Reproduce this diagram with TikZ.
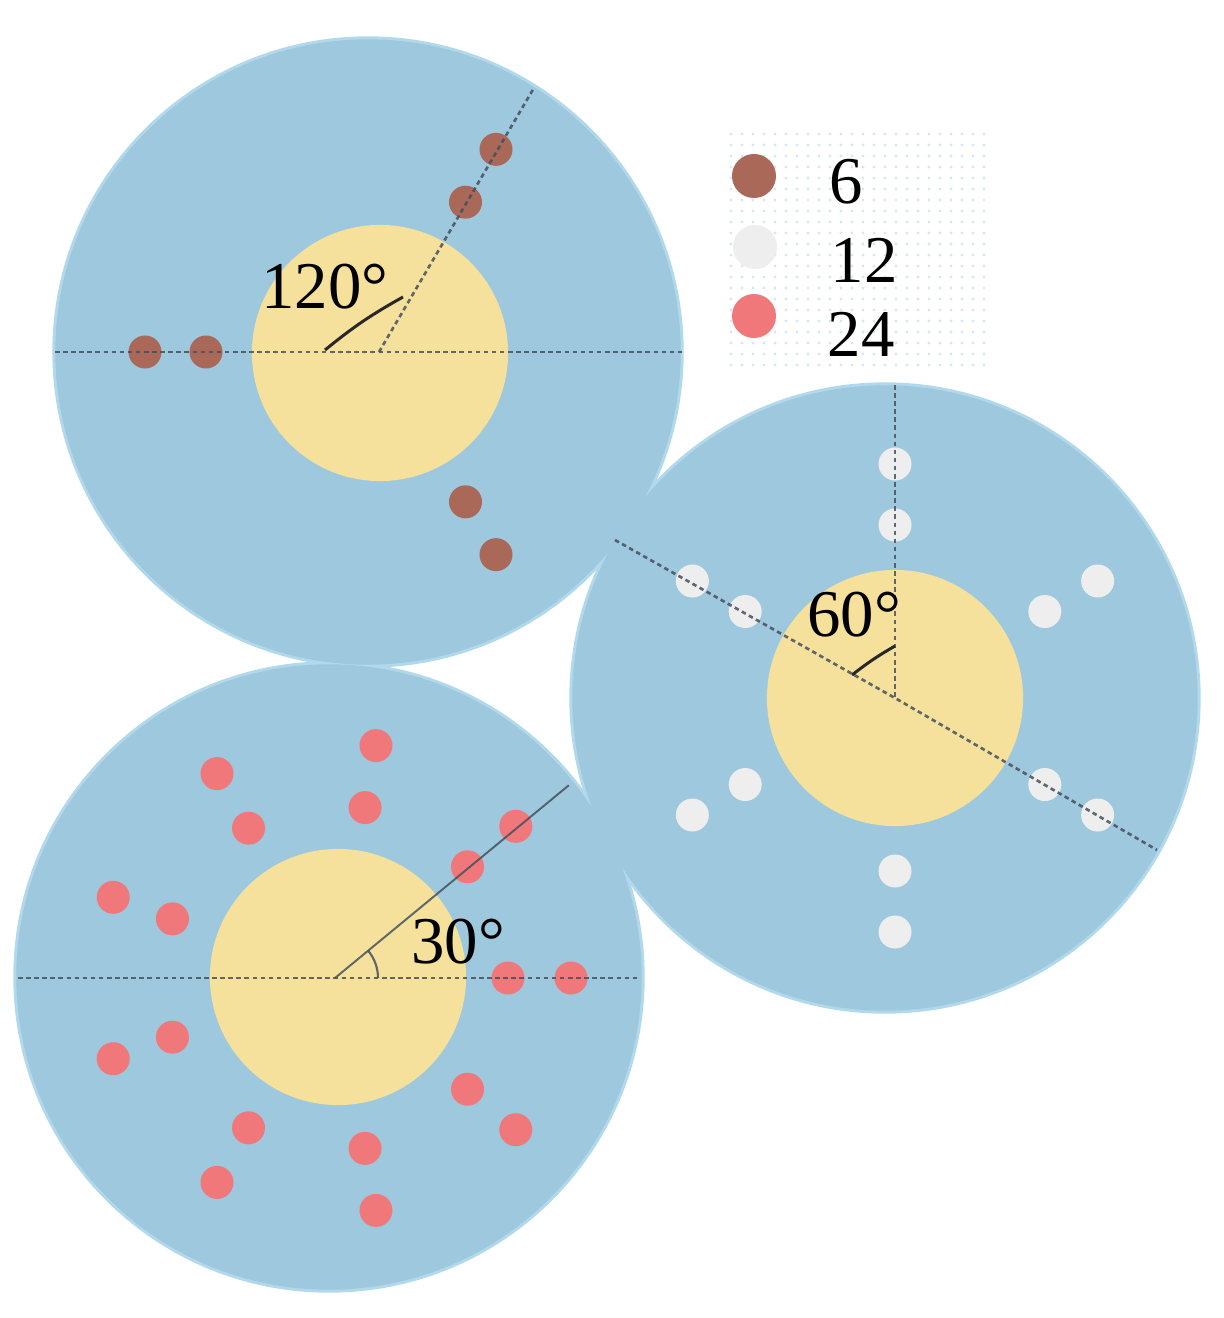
\documentclass[tikz,border=0pt]{standalone}
\usepackage{fontspec}
\setmainfont{Liberation Serif}
\usetikzlibrary{calc}
\definecolor{rimblue}{RGB}{178,216,236}
\definecolor{diskblue}{RGB}{158,200,222}
\definecolor{coreyellow}{RGB}{245,225,155}
\definecolor{dotbrown}{RGB}{170,105,88}
\definecolor{dotpink}{RGB}{240,120,122}
\definecolor{dotwhite}{RGB}{238,238,238}
\definecolor{guidegray}{RGB}{70,80,92}
\definecolor{markgray}{RGB}{40,40,40}
\definecolor{legdot}{RGB}{214,231,243}
\tikzset{
  rimdisk/.style={circle,inner sep=0pt,minimum size=6.31cm,fill=rimblue},
  outerdisk/.style={circle,inner sep=0pt,minimum size=6.25cm,fill=diskblue},
  coredisk/.style={circle,inner sep=0pt,minimum size=2.56cm,fill=coreyellow},
  pellet/.style={circle,inner sep=0pt,minimum size=0.33cm,fill=#1},
  legpellet/.style={circle,inner sep=0pt,minimum size=0.44cm,fill=#1},
  guide/.style={draw=guidegray,line width=0.75pt,dash pattern=on 1.3pt off 1.0pt,opacity=0.85},
  solidguide/.style={draw=guidegray,line width=0.55pt,opacity=0.85},
  anglemark/.style={draw=markgray,line width=0.85pt},
  lbl/.style={font=\fontsize{19}{22}\selectfont,inner sep=0pt,text=black},
}
\begin{document}
\begin{tikzpicture}[x=0.01cm,y=-0.01cm]
\useasboundingbox (0,0) rectangle (1223,1318);

% legend background (faint dot pattern)
\foreach \i in {0,...,23}{
  \foreach \j in {0,...,21}{
    \fill[legdot] ({731+11*\i},{134+11*\j}) circle[radius=0.45pt];
  }
}

% rims
\node[rimdisk] (Trim) at (368,352) {};
\node[rimdisk] (Rrim) at (885,698) {};
\node[rimdisk] (Brim) at (329,977) {};
% blue disks
\node[outerdisk] (Tdisk) at (368,352) {};
\node[outerdisk] (Rdisk) at (885,698) {};
\node[outerdisk] (Bdisk) at (329,977) {};
% yellow cores
\node[coredisk] (Tcore) at (380,353) {};
\node[coredisk] (Rcore) at (895,698) {};
\node[coredisk] (Bcore) at (338,977) {};

% vertices
\coordinate (TV) at (379,352);
\coordinate (RV) at (895,698);
\coordinate (BV) at (335,978);

% top pellets (6)
\foreach \a [count=\k] in {-60,180,60}{
  \node[pellet=dotbrown] (Tp\k a) at ($(TV)+(\a:173)$) {};
  \node[pellet=dotbrown] (Tp\k b) at ($(TV)+(\a:234)$) {};
}
% right pellets (12)
\foreach \a [count=\k] in {30,90,150,-150,-90,-30}{
  \node[pellet=dotwhite] (Rp\k a) at ($(RV)+(\a:173)$) {};
  \node[pellet=dotwhite] (Rp\k b) at ($(RV)+(\a:234)$) {};
}
% bottom pellets
\foreach \a [count=\k] in {0,40,80,120,160,200,240,280,320}{
  \node[pellet=dotpink] (Bp\k a) at ($(BV)+(\a:173)$) {};
  \node[pellet=dotpink] (Bp\k b) at ($(BV)+(\a:236)$) {};
}

% guide lines top
\coordinate (Th1) at (55,352);
\coordinate (Th2) at (682,352);
\coordinate (Tr) at ($(TV)+(-59.6:306)$);
\draw[guide] (Th1) -- (Th2);
\draw[guide] (TV) -- (Tr);
% guide lines right
\coordinate (Rv1) at (895,385);
\coordinate (Rs1) at (615,540);
\coordinate (Rs2) at (1157,850);
\draw[guide] (Rv1) -- (RV);
\draw[guide] (Rs1) -- (RV) -- (Rs2);
% guide lines bottom
\coordinate (Bh1) at (18,978);
\coordinate (Bh2) at (640,978);
\coordinate (Br) at ($(BV)+(-39.5:303)$);
\draw[guide] (Bh1) -- (Bh2);
\draw[solidguide] (BV) -- (Br);

% angle marks
\coordinate (Tm1) at (325,350);
\coordinate (Tm2) at (403,297);
\draw[anglemark] (Tm1) to[bend left=5] (Tm2);
\coordinate (Rm1) at (852,675);
\coordinate (Rm2) at (895,646);
\draw[anglemark] (Rm1) to[bend left=4] (Rm2);
\coordinate (Bm1) at (378,978);
\draw[solidguide,line width=0.6pt] (Bm1) arc[start angle=0,end angle=39.5,radius=12.2pt];

% angle labels
\node[lbl] (T120) at (325,287) {120°};
\node[lbl] (R60) at (854,615) {60°};
\node[lbl] (B30) at (458,942) {30°};

% legend
\node[legpellet=dotbrown] (L6) at (754,176) {};
\node[legpellet=dotwhite] (L12) at (755,247) {};
\node[legpellet=dotpink] (L24) at (754,316) {};
\node[lbl,anchor=west] (L6t) at (829,182) {6};
\node[lbl,anchor=west] (L12t) at (830,260) {12};
\node[lbl,anchor=west] (L24t) at (827,334) {24};
\end{tikzpicture}
\end{document}
